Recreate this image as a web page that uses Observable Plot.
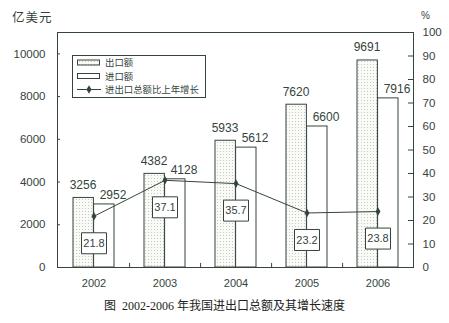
<!DOCTYPE html>
<html><head><meta charset="utf-8">
<script src="https://cdn.jsdelivr.net/npm/d3@7"></script>
<script src="https://cdn.jsdelivr.net/npm/@observablehq/plot@0.6"></script>
<style>
body{margin:0;background:#fff;}
#c{width:449px;}
.cap{font-family:"Liberation Serif","Noto Sans CJK SC",serif;font-size:12px;text-align:center;color:#222;line-height:20px;height:27px;white-space:pre;}
</style></head><body><div id="c"></div>
<script>
const years = ["2002","2003","2004","2005","2006"];
const exportValues = [3256, 4382, 5933, 7620, 9691];
const importValues = [2952, 4128, 5612, 6600, 7916];
const growthPct = [21.8, 37.1, 35.7, 23.2, 23.8];
const leftTicks = [0, 2000, 4000, 6000, 8000, 10000];
const rightTicks = [0, 10, 20, 30, 40, 50, 60, 70, 80, 90, 100];
const leftUnit = "亿美元";
const rightUnit = "%";
const legendLabels = ["出口额", "进口额", "进出口总额比上年增长"];
const caption = "图  2002-2006 年我国进出口总额及其增长速度";

const data = years.map((y, i) => ({year: y, exp: exportValues[i], imp: importValues[i], g: growthPct[i]}));
const K = 110; // 100% on the right axis equals 11000 on the left
const ink = "#34443d";
const W = 449, H = 296, mL = 57, mR = 36, mT = 32, mB = 29;
const band = (W - mL - mR) / years.length;
const barInOut = 15, barInIn = band / 2;

const boxSym = {draw(ctx) { ctx.moveTo(-12.5,-10.5); ctx.lineTo(12.5,-10.5); ctx.lineTo(12.5,10.5); ctx.lineTo(-12.5,10.5); ctx.closePath(); }};

const svg = Plot.plot({
  width: W, height: H, marginLeft: mL, marginRight: mR, marginTop: mT, marginBottom: mB,
  style: {fontFamily: "'Liberation Sans', Arial, sans-serif", fontSize: "11.5px", color: ink, background: "white"},
  x: {domain: years, padding: 0, axis: null},
  y: {domain: [0, 11000], axis: null},
  marks: [
    Plot.barY(data, {x: "year", y: "exp", fill: "url(#dots)", stroke: ink, strokeWidth: 1, insetLeft: barInOut, insetRight: barInIn}),
    Plot.barY(data, {x: "year", y: "imp", fill: "white", stroke: ink, strokeWidth: 1, insetLeft: barInIn, insetRight: barInOut}),
    Plot.frame({stroke: ink}),
    Plot.tickY(leftTicks, {y: d => d, insetRight: W - mL - mR - 3, stroke: ink}),
    Plot.tickY(rightTicks.map(v => v * K), {y: d => d, insetLeft: W - mL - mR - 5, stroke: ink}),
    Plot.ruleX(years.slice(0, 4), {x: d => d, dx: band / 2, y1: 0, y2: 190, stroke: ink}),
    Plot.axisY(leftTicks, {anchor: "left", tickSize: 0, tickPadding: 12, tickFormat: d => String(d), label: null}),
    Plot.axisY(rightTicks.map(v => v * K), {anchor: "right", tickSize: 0, tickPadding: 9, tickFormat: d => String(Math.round(d / K)), label: null}),
    Plot.axisX({anchor: "bottom", tickSize: 0, tickPadding: 12, fontSize: 11, label: null}),
    Plot.text(data, {x: "year", y: "exp", text: d => String(d.exp), dx: -11, dy: -13, fontSize: 12, fill: ink}),
    Plot.text(data, {x: "year", y: "imp", text: d => String(d.imp), dx: 19, dy: -9, fontSize: 12, fill: ink}),
    Plot.line(data, {x: "year", y: d => d.g * K, stroke: ink, strokeWidth: 1}),
    Plot.dot(data, {x: "year", y: d => d.g * K, symbol: "diamond", r: 2.6, fill: ink, stroke: "none"}),
    Plot.dot(data, {x: "year", y: d => d.g * K, dy: 27, symbol: boxSym, fill: "white", stroke: ink, strokeWidth: 1}),
    Plot.text(data, {x: "year", y: d => d.g * K, dy: 27, text: d => d.g.toFixed(1), fontSize: 11, fill: ink})
  ]
});

const s = d3.select(svg);
s.insert("defs", ":first-child").html(
  '<pattern id="dots" width="3" height="3" patternUnits="userSpaceOnUse">' +
  '<rect width="3" height="3" fill="#fafaf7"/><rect x="1" y="1" width="1" height="1" fill="#c3c9c5"/></pattern>');

// unit labels
s.append("text").attr("x", 12).attr("y", 22).attr("fill", ink).attr("text-anchor", "start")
  .style("font-family", "'Noto Sans CJK SC', sans-serif").style("font-size", "12.5px").style("letter-spacing", "1px").text(leftUnit);
s.append("text").attr("x", 421).attr("y", 19).attr("fill", ink).attr("text-anchor", "start")
  .style("font-family", "'Liberation Sans', sans-serif").style("font-size", "10px").text(rightUnit);

// legend
const lg = s.append("g").attr("text-anchor", "start").style("font-family", "'Noto Sans CJK SC', sans-serif").style("font-size", "9.4px");
lg.append("rect").attr("x", 72.5).attr("y", 55.5).attr("width", 133).attr("height", 42).attr("fill", "white").attr("stroke", ink);
const rows = [63, 76.5, 89.5];
lg.append("rect").attr("x", 77.5).attr("y", rows[0] - 3).attr("width", 22).attr("height", 5).attr("fill", "url(#dots)").attr("stroke", ink);
lg.append("rect").attr("x", 77.5).attr("y", rows[1] - 3).attr("width", 22).attr("height", 5).attr("fill", "white").attr("stroke", ink);
lg.append("line").attr("x1", 77).attr("x2", 101).attr("y1", rows[2]).attr("y2", rows[2]).attr("stroke", ink);
lg.append("path").attr("d", d3.symbol(d3.symbolDiamond, 22)()).attr("transform", `translate(89,${rows[2]})`).attr("fill", ink);
legendLabels.forEach((t, i) => {
  lg.append("text").attr("x", 105).attr("y", rows[i]).attr("dy", "0.35em").attr("fill", ink).attr("text-anchor", "start").text(t);
});

document.getElementById("c").appendChild(svg);
const cap = document.createElement("div");
cap.className = "cap";
cap.textContent = caption;
document.getElementById("c").appendChild(cap);
</script>
</body></html>
